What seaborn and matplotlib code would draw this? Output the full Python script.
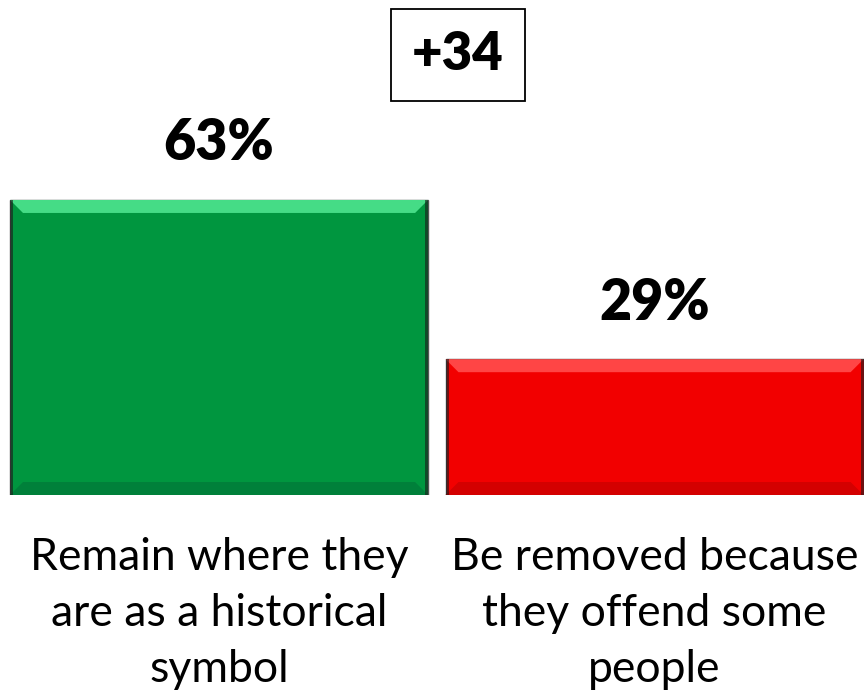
import matplotlib
matplotlib.use("Agg")
import matplotlib.pyplot as plt
import seaborn as sns
import pandas as pd
from matplotlib.patches import Polygon
from matplotlib.transforms import IdentityTransform

categories = ["Remain where they\nare as a historical\nsymbol",
              "Be removed because\nthey offend some\npeople"]
values = [63, 29]
value_labels = ["63%", "29%"]
net_label = "+34"
colors = ["#00963F", "#F20000"]
light = ["#45DC86", "#FF4545"]
dark = ["#00803A", "#D40000"]

sns.set_theme(style="white")
plt.rcParams["font.family"] = ["Lato", "DejaVu Sans"]

df = pd.DataFrame({"cat": categories, "val": values})

fig = plt.figure(figsize=(8.64, 6.99), dpi=100)
ax = fig.add_axes([0, 204 / 699, 1, 1 - 204 / 699])
sns.barplot(data=df, x="cat", y="val", hue="cat", palette=colors, width=0.96,
            saturation=1, legend=False, ax=ax, edgecolor="#555555", linewidth=1.0)
ax.set_xlim(-0.503, 1.481)
ax.set_ylim(0, 105.7)
ax.axis("off")

for i, p in enumerate(ax.patches):
    cx = p.get_x() + p.get_width() / 2
    ax.annotate(value_labels[i], (cx, p.get_height()), xytext=(0, 22),
                textcoords="offset points", ha="center", va="bottom",
                fontsize=40, fontweight="heavy", color="black")
    ax.annotate(categories[i], (cx, 0), xytext=(0, -30),
                textcoords="offset points", ha="center", va="top",
                fontsize=32, color="black", linespacing=1.46)

fig.canvas.draw()
b = 13
for i, p in enumerate(ax.patches):
    bb = p.get_window_extent()
    x0, x1, y0, y1 = bb.x0, bb.x1, bb.y0, bb.y1
    top = Polygon([(x0, y1), (x1, y1), (x1 - b, y1 - b), (x0 + b, y1 - b)],
                  closed=True, transform=IdentityTransform(), facecolor=light[i],
                  edgecolor="none", zorder=3)
    bot = Polygon([(x0, y0), (x1, y0), (x1 - b, y0 + b), (x0 + b, y0 + b)],
                  closed=True, transform=IdentityTransform(), facecolor=dark[i],
                  edgecolor="none", zorder=3)
    fig.add_artist(top)
    fig.add_artist(bot)
    left = Polygon([(x0, y0), (x0 + 3, y0), (x0 + 3, y1), (x0, y1)], closed=True,
                   transform=IdentityTransform(), facecolor="#1a1a1a", alpha=0.6,
                   edgecolor="none", zorder=4)
    right = Polygon([(x1 - 3, y0), (x1, y0), (x1, y1), (x1 - 3, y1)], closed=True,
                    transform=IdentityTransform(), facecolor="#1a1a1a", alpha=0.6,
                    edgecolor="none", zorder=4)
    fig.add_artist(left)
    fig.add_artist(right)

fig.text(458 / 864, 1 - 55 / 699, net_label, ha="center", va="center",
         fontsize=38, fontweight="heavy", color="black",
         bbox=dict(boxstyle="square,pad=0.4", facecolor="white",
                   edgecolor="black", linewidth=1.3))

fig.savefig("out.png", dpi=100)
